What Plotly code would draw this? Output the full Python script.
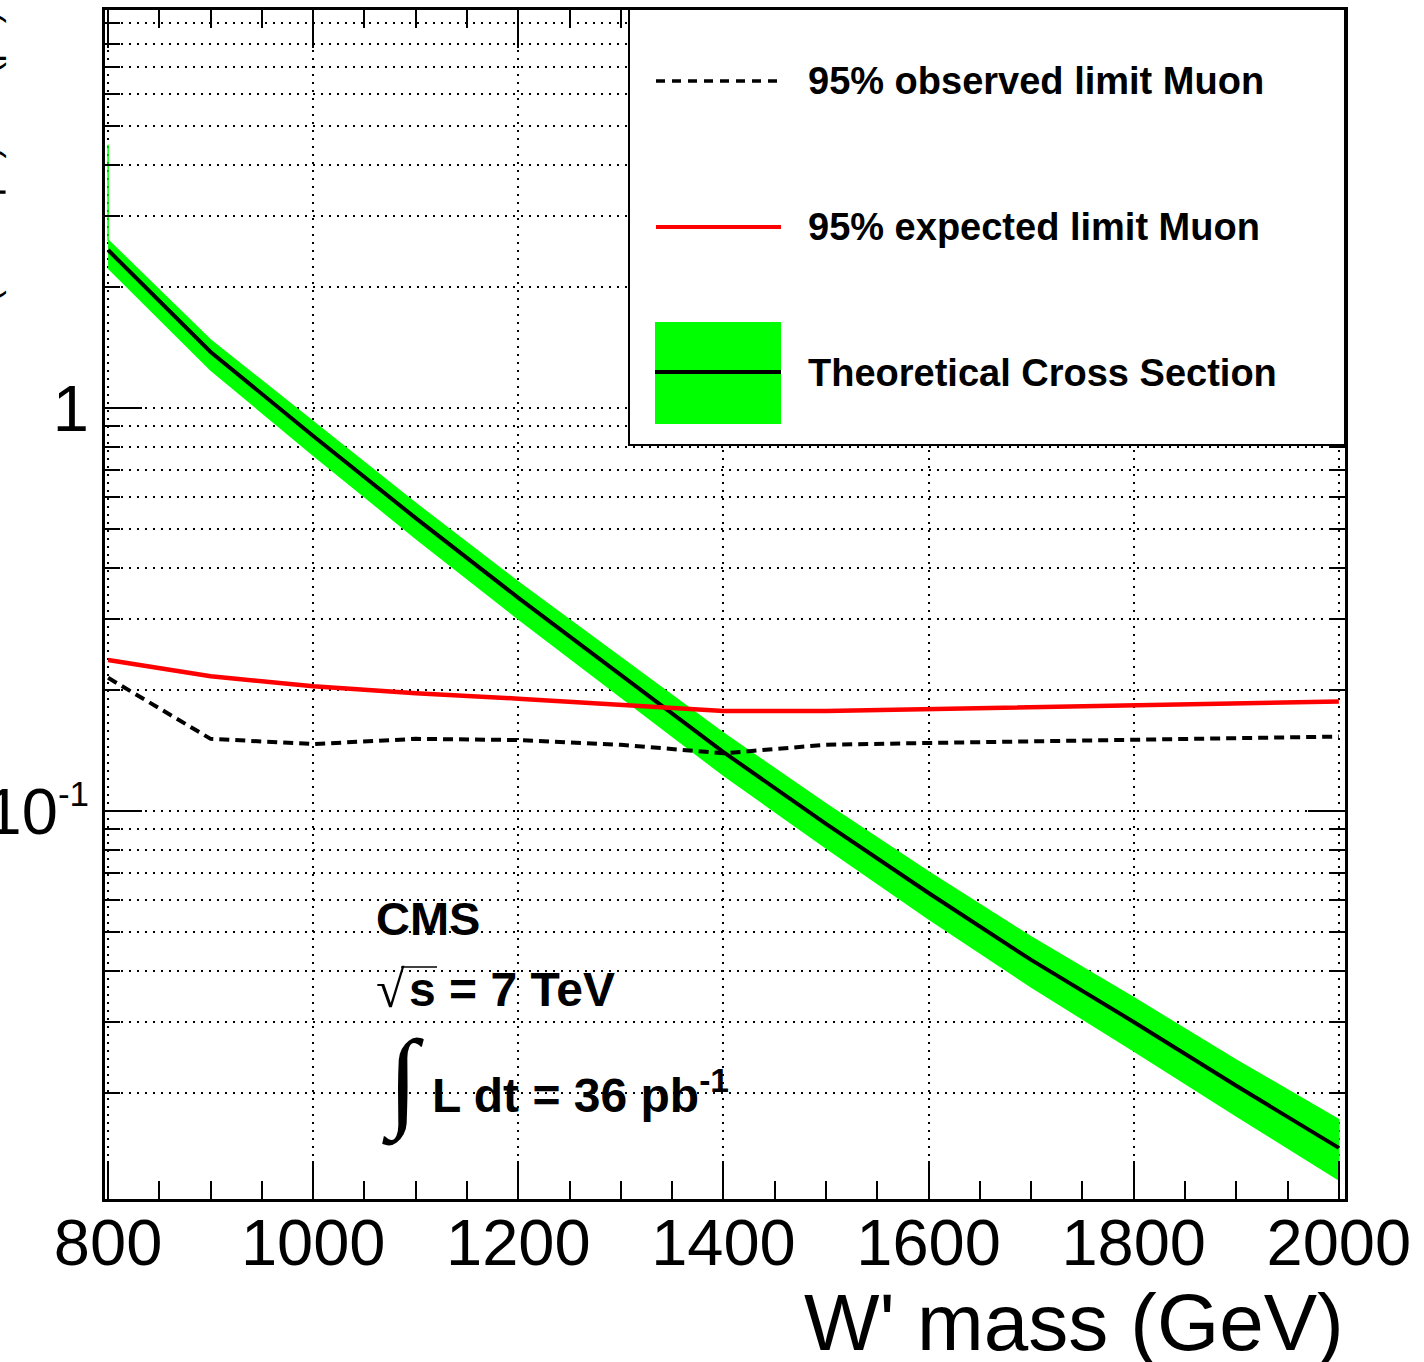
import plotly.graph_objects as go

# W' mass points (GeV)
mass = [800, 900, 1000, 1100, 1200, 1300, 1400, 1500, 1600, 1700, 1800, 1900, 2000]

# 95% CL limits on sigma x B (pb), muon channel
obs_limit = [0.214, 0.151, 0.1466, 0.151, 0.150, 0.146, 0.139, 0.146, 0.1475, 0.149, 0.150, 0.152, 0.153]
exp_limit = [0.237, 0.216, 0.204, 0.196, 0.190, 0.183, 0.177, 0.177, 0.179, 0.181, 0.183, 0.185, 0.187]

# theoretical cross section with its uncertainty band (pb)
xsec = [2.466, 1.377, 0.852, 0.533, 0.338, 0.2175, 0.140, 0.0929, 0.0626, 0.0427, 0.02996, 0.0208, 0.01459]
xsec_up = [2.61, 1.475, 0.923, 0.580, 0.370, 0.240, 0.156, 0.1041, 0.0706, 0.0487, 0.0344, 0.0241, 0.01713]
xsec_dn = [2.226, 1.243, 0.764, 0.475, 0.2996, 0.1918, 0.1227, 0.0810, 0.0540, 0.0366, 0.0254, 0.01752, 0.01216]
band_edge = 4.5  # upper end of the band's closing edge at the first mass point

x_ticks = [800, 1000, 1200, 1400, 1600, 1800, 2000]
y_ticks = [0.1, 1]
y_ticktext = ["10<sup><span style='font-size:35px'>-1</span></sup>", "1"]
y_minor = [k * 10 ** e for e in (-2, -1, 0) for k in range(2, 10)]

W, H = 1424, 1362
L, R, T, B = 105, 1345, 10, 1199


def fx(px):
    return (px - L) / (R - L)


def fy(py):
    return (B - py) / (B - T)


GREEN = "#00ff00"
FONT = "Liberation Sans"
dotted = "2px,6px"
dashed = "10px,6px"

fig = go.Figure()

# uncertainty band on the theoretical cross section
fig.add_trace(go.Scatter(
    x=[mass[0]] + mass + mass[::-1],
    y=[band_edge] + xsec_up + xsec_dn[::-1],
    fill="toself", fillcolor=GREEN, mode="lines",
    line=dict(color=GREEN, width=1.5), hoverinfo="skip", showlegend=False,
))
fig.add_trace(go.Scatter(x=mass, y=xsec, mode="lines",
                         line=dict(color="black", width=4), showlegend=False))
fig.add_trace(go.Scatter(x=mass, y=exp_limit, mode="lines",
                         line=dict(color="#ff0000", width=4.5), showlegend=False))
fig.add_trace(go.Scatter(x=mass, y=obs_limit, mode="lines",
                         line=dict(color="black", width=4, dash=dashed), showlegend=False))

fig.update_layout(
    width=W, height=H,
    margin=dict(l=L, r=W - R, t=T, b=H - B, pad=0, autoexpand=False),
    paper_bgcolor="white", plot_bgcolor="white",
    showlegend=False,
    font=dict(family=FONT, color="black"),
    xaxis=dict(
        range=[797, 2006], tickmode="array", tickvals=x_ticks,
        ticks="inside", ticklen=38, tickwidth=2, tickcolor="black",
        showline=True, linewidth=3, linecolor="black", mirror="allticks",
        showgrid=True, gridcolor="black", gridwidth=2, griddash=dotted,
        zeroline=False, automargin=False,
        minor=dict(dtick=50, tick0=800, ticks="inside", ticklen=18, tickwidth=2,
                   tickcolor="black", showgrid=False),
        tickfont=dict(family=FONT, size=65, color="black"),
        ticklabelstandoff=-15,
    ),
    yaxis=dict(
        type="log", range=[-1.9628, 0.9876],
        tickmode="array", tickvals=y_ticks, ticktext=y_ticktext,
        ticks="inside", ticklen=37, tickwidth=2, tickcolor="black",
        showline=True, linewidth=3, linecolor="black", mirror="allticks",
        showgrid=True, gridcolor="black", gridwidth=2, griddash=dotted,
        zeroline=False, automargin=False,
        minor=dict(tickmode="array", tickvals=y_minor, ticks="inside", ticklen=15,
                   tickwidth=2, tickcolor="black", showgrid=True,
                   gridcolor="black", gridwidth=2, griddash=dotted),
        tickfont=dict(family=FONT, size=65, color="black"),
        ticklabelstandoff=0,
    ),
)

shapes = []
annotations = []

# legend box
shapes.append(dict(type="rect", xref="paper", yref="paper", layer="above",
                   x0=fx(629), x1=fx(1345), y0=fy(445), y1=fy(9),
                   fillcolor="white", line=dict(color="black", width=2)))
shapes.append(dict(type="line", xref="paper", yref="paper", layer="above",
                   x0=fx(656), x1=fx(779), y0=fy(81), y1=fy(81),
                   line=dict(color="black", width=3.5, dash="9px,7px")))
shapes.append(dict(type="line", xref="paper", yref="paper", layer="above",
                   x0=fx(656), x1=fx(781), y0=fy(227), y1=fy(227),
                   line=dict(color="#ff0000", width=4)))
shapes.append(dict(type="rect", xref="paper", yref="paper", layer="above",
                   x0=fx(655), x1=fx(781), y0=fy(424), y1=fy(322),
                   fillcolor=GREEN, line=dict(width=0)))
shapes.append(dict(type="line", xref="paper", yref="paper", layer="above",
                   x0=fx(655), x1=fx(781), y0=fy(372), y1=fy(372),
                   line=dict(color="black", width=4)))

legend_items = [("95% observed limit Muon", 81),
                ("95% expected limit Muon", 227),
                ("Theoretical Cross Section", 373)]
for text, ypix in legend_items:
    annotations.append(dict(text=f"<b>{text}</b>", xref="paper", yref="paper",
                            x=fx(806), y=fy(ypix), xanchor="left", yanchor="middle",
                            showarrow=False, font=dict(family=FONT, size=38, color="black")))

# experiment label
annotations.append(dict(text="<b>CMS</b>", xref="paper", yref="paper",
                        x=fx(374), y=fy(918), xanchor="left", yanchor="middle",
                        showarrow=False, font=dict(family=FONT, size=47, color="black")))
annotations.append(dict(text="√", xref="paper", yref="paper",
                        x=fx(374), y=fy(990), xanchor="left", yanchor="middle",
                        showarrow=False, font=dict(family="Liberation Serif", size=52, color="black")))
shapes.append(dict(type="line", xref="paper", yref="paper", layer="above",
                   x0=fx(401), x1=fx(437), y0=fy(967), y1=fy(967),
                   line=dict(color="black", width=1.5)))
annotations.append(dict(text="<b>s = 7 TeV</b>", xref="paper", yref="paper",
                        x=fx(407), y=fy(990), xanchor="left", yanchor="middle",
                        showarrow=False, font=dict(family=FONT, size=48, color="black")))
annotations.append(dict(text="∫", xref="paper", yref="paper",
                        x=fx(380), y=fy(1082), xanchor="left", yanchor="middle",
                        showarrow=False, font=dict(family="Liberation Serif", size=110, color="black")))
annotations.append(dict(text="<b>L dt = 36 pb<sup>-1</sup></b>", xref="paper", yref="paper",
                        x=fx(430), y=fy(1092), xanchor="left", yanchor="middle",
                        showarrow=False, font=dict(family=FONT, size=48, color="black")))

# axis titles
annotations.append(dict(text="W' mass (GeV)", xref="paper", yref="paper",
                        x=fx(1346), y=fy(1322), xanchor="right", yanchor="middle",
                        showarrow=False, font=dict(family=FONT, size=80, color="black")))
annotations.append(dict(text="σ(W' → μν) × B (pb)", xref="paper", yref="paper",
                        x=fx(7), y=fy(10), xanchor="right", yanchor="top", textangle=-90,
                        showarrow=False, font=dict(family=FONT, size=35, color="black")))

fig.update_layout(shapes=shapes, annotations=annotations)
fig.write_html("out.html")
